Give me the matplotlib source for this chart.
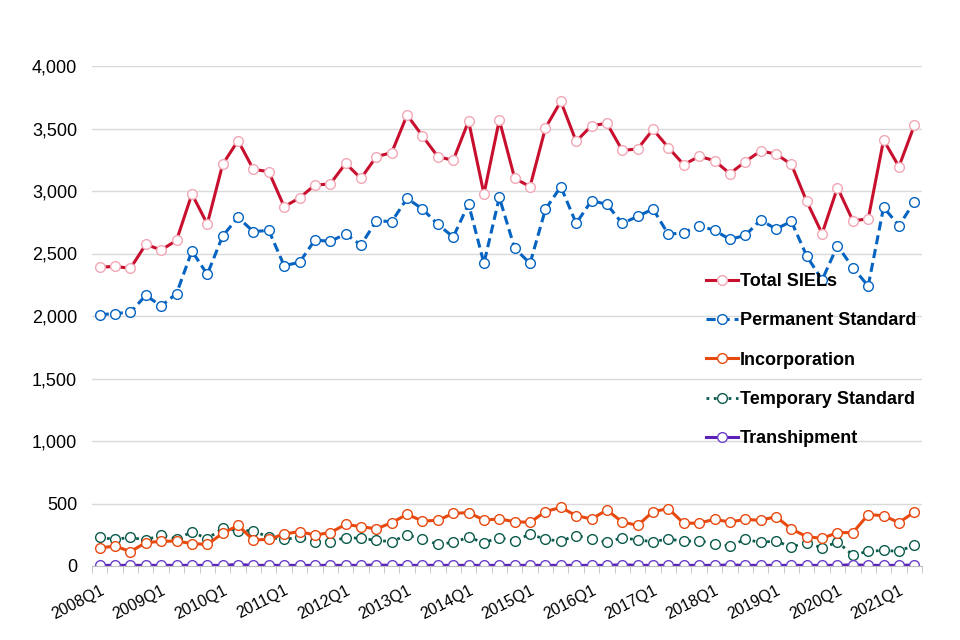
import numpy as np
import matplotlib
matplotlib.use('Agg')
import matplotlib.pyplot as plt
from matplotlib.ticker import FuncFormatter

plt.rcParams['font.family'] = ['Liberation Sans', 'DejaVu Sans']

#-------------------------------------------------------data-------------------------------------------------------

quarters = ['%dQ%d' % (y, q) for y in range(2008, 2022) for q in range(1, 5)][:54]

total_siels = [2390, 2397, 2381, 2573, 2528, 2605, 2976, 2736, 3213, 3403,
               3173, 3155, 2875, 2944, 3048, 3056, 3221, 3101, 3275, 3307,
               3608, 3440, 3275, 3245, 3560, 2976, 3568, 3101, 3035, 3504,
               3717, 3397, 3523, 3541, 3325, 3336, 3493, 3347, 3211, 3277,
               3243, 3139, 3235, 3320, 3296, 3213, 2917, 2659, 3027, 2763,
               2776, 3408, 3195, 3525]

permanent_standard = [2010, 2020, 2030, 2165, 2080, 2180, 2520, 2333, 2640, 2789,
                      2675, 2685, 2403, 2429, 2608, 2597, 2656, 2568, 2762, 2755,
                      2941, 2856, 2733, 2632, 2896, 2421, 2949, 2541, 2421, 2853,
                      3035, 2741, 2923, 2893, 2741, 2797, 2856, 2653, 2667, 2723,
                      2685, 2613, 2645, 2768, 2696, 2757, 2480, 2288, 2563, 2387,
                      2240, 2869, 2723, 2912]

incorporation = [144, 160, 115, 187, 197, 200, 179, 173, 261, 325,
                 208, 213, 256, 275, 248, 267, 333, 315, 297, 347,
                 413, 360, 365, 421, 427, 368, 376, 355, 349, 435,
                 469, 403, 376, 448, 352, 325, 435, 459, 341, 344,
                 373, 352, 373, 365, 395, 296, 235, 221, 267, 267,
                 411, 403, 347, 432]

temporary_standard = [229, 213, 229, 208, 248, 216, 272, 219, 301, 283,
                      283, 229, 213, 229, 192, 195, 227, 222, 205, 195,
                      248, 216, 173, 189, 229, 187, 227, 200, 256, 213,
                      200, 243, 219, 189, 227, 208, 195, 216, 197, 203,
                      176, 160, 213, 189, 200, 152, 187, 144, 192, 88,
                      117, 125, 117, 168]

transhipment = [5, 5, 5, 5, 5, 5, 5, 5, 5, 12,
                5, 5, 5, 5, 5, 5, 5, 5, 8, 5,
                5, 5, 5, 5, 5, 5, 5, 5, 5, 5,
                5, 5, 5, 5, 10, 5, 5, 5, 5, 5,
                5, 8, 5, 5, 5, 5, 5, 5, 5, 10,
                5, 5, 5, 8]

#-------------------------------------------------------plot-------------------------------------------------------

x = np.arange(len(quarters))

fig = plt.figure(figsize=(9.6, 6.4), dpi=100)
ax = fig.add_axes([92/960, 1-566/640, 830/960, 500/640])

ax.plot(x, total_siels, '-', color='#C8102E', lw=2.2, marker='o', ms=7,
        mfc='white', mec='#F2A7B5', mew=1.0, label='Total SIELs', zorder=5)
ax.plot(x, permanent_standard, '--', color='#0563C1', lw=2.2, marker='o', ms=7,
        mfc='white', mec='#0563C1', mew=1.0, label='Permanent Standard', zorder=4, dashes=(3, 1.6))
ax.plot(x, incorporation, '-', color='#E8490F', lw=2.2, marker='o', ms=7,
        mfc='white', mec='#E8490F', mew=1.0, label='Incorporation', zorder=3)
ax.plot(x, temporary_standard, ':', color='#0B5A4C', lw=2.0, marker='o', ms=7,
        mfc='white', mec='#0B5A4C', mew=1.0, label='Temporary Standard', zorder=2)
ax.plot(x, transhipment, '-', color='#5B21B6', lw=2.2, marker='o', ms=7,
        mfc='white', mec='#6A3FC8', mew=1.0, label='Transhipment', zorder=2)

ax.set_xlim(-0.5, len(quarters) - 0.5)
ax.set_ylim(0, 4000)
ax.set_yticks(np.arange(0, 4001, 500))
ax.yaxis.set_major_formatter(FuncFormatter(lambda v, p: '{:,.0f}'.format(v)))
ax.grid(axis='y', color='#D9D9D9', lw=1)
ax.set_axisbelow(True)

ax.set_xticks(x[::4])
ax.set_xticklabels(quarters[::4], rotation=27, ha='right', rotation_mode='anchor')
ax.set_xticks(np.arange(-0.5, len(quarters), 1), minor=True)

for s in ['top', 'right', 'left']:
    ax.spines[s].set_visible(False)
ax.spines['bottom'].set_color('#BFBFBF')
ax.tick_params(axis='y', length=0, labelsize=13, pad=10.7)
ax.tick_params(axis='x', which='major', length=0, labelsize=11.5, pad=12)
ax.tick_params(axis='x', which='minor', length=5, color='#BFBFBF')

leg = ax.legend(loc='upper left', bbox_to_anchor=(690/960, 1-257/640), bbox_transform=fig.transFigure,
                frameon=False, handlelength=1.75, handletextpad=0.12, labelspacing=1.23,
                prop={'weight': 'bold', 'size': 13})

fig.savefig('out.png', dpi=100)
